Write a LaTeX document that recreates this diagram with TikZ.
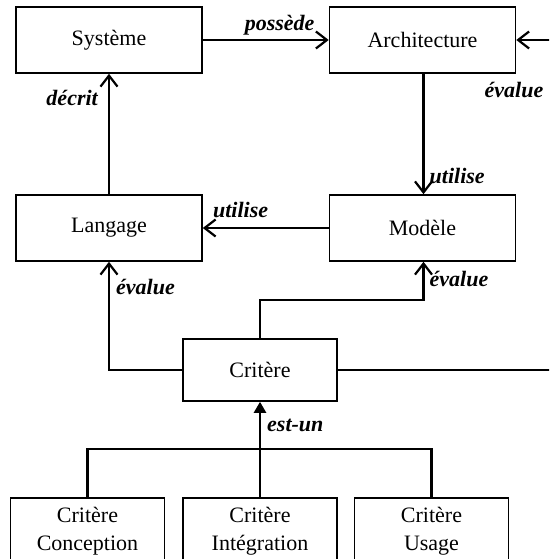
\documentclass[tikz,border=0pt]{standalone}
\usepackage{fontspec}
\setmainfont{Liberation Serif}
\usetikzlibrary{arrows.meta,positioning}

\begin{document}
\begin{tikzpicture}[x=1pt, y=-1pt,
    main/.style = {draw, rectangle, line width=1.6pt, minimum width=186pt, minimum height=66pt, inner sep=0pt, font=\fontsize{22}{28}\selectfont},
    crit/.style = {main, minimum width=154pt, minimum height=62pt},
    sub/.style = {main, minimum width=154pt, minimum height=66pt, align=center},
    lbl/.style = {font=\fontsize{22}{26}\selectfont\bfseries\itshape, inner sep=2pt},
    line/.style = {line width=2.4pt},
    arr/.style = {line, -{Straight Barb[length=11pt, width=17pt, line width=2.2pt]}},
    isa/.style = {line, -{Triangle[length=11pt, width=12pt]}}]
    \useasboundingbox (0,0) rectangle (549,559);
    \clip (0,0) rectangle (549,559);

    \node[main] (1) at (109,40) {Système};
    \node[main] (2) at (422.5,40) {Architecture};
    \node[main] (3) at (109,228) {Langage};
    \node[main] (4) at (422.5,228) {Modèle};
    \node[crit] (5) at (260,370) {Critère};
    \node[sub] (6) at (87.5,531) {Critère\\Conception};
    \node[sub] (7) at (260,531) {Critère\\Intégration};
    \node[sub] (8) at (431.5,531) {Critère\\Usage};
    \coordinate (t) at (260,449);

    \draw[arr] (1) -- node[lbl, above=2pt, pos=0.61] {possède} (2);
    \draw[arr] (3) -- node[lbl, left=8pt, pos=0.8] {décrit} (1);
    \draw[arr] (2.south -| 423.5,0) -- node[lbl, right=3pt, pos=0.85] {utilise} (4.north -| 423.5,0);
    \draw[arr] (4) -- node[lbl, above=7pt, pos=0.7] {utilise} (3);

    \draw[arr] (5.west) -| node[lbl, right=4pt, pos=0.885] {évalue} (3.south);
    \draw[arr] (5.north) -- ++(0,-38) -| node[lbl, right=3pt, pos=0.775] {évalue} (4.south -| 423.5,0);
    \draw[arr] (5.east) -- ++(260,0) |- (2.east);
    \node[lbl] (e) at (514,90) {évalue};

    \draw[line] (6.north) |- (t) -| (8.north);
    \draw[isa] (7.north) -- node[lbl, right=4pt, pos=0.75] {est-un} (5.south);
\end{tikzpicture}
\end{document}
